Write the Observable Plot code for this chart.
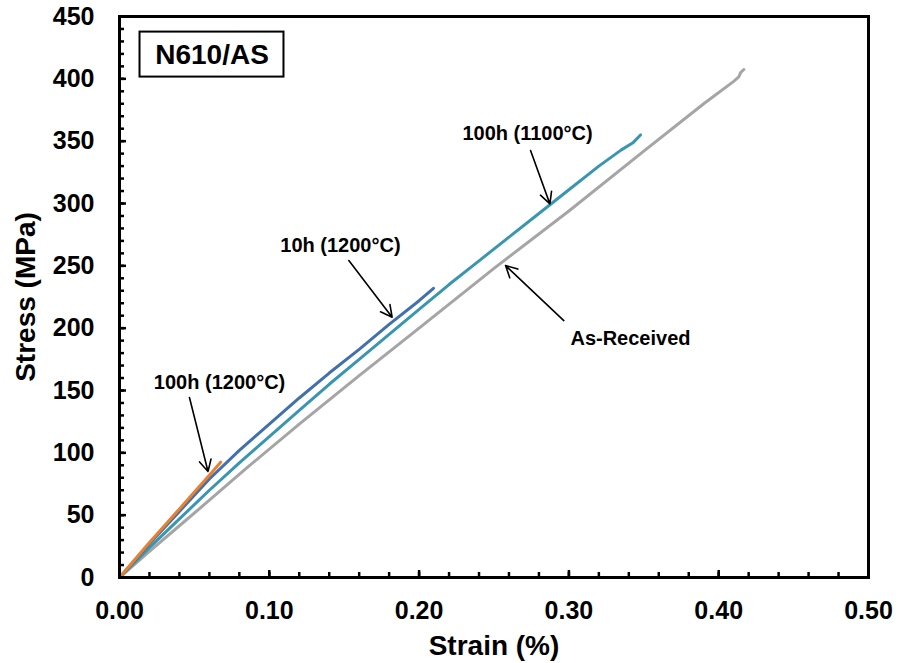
<!DOCTYPE html>
<html>
<head>
<meta charset="utf-8">
<script src="https://cdn.jsdelivr.net/npm/d3@7"></script>
<script src="https://cdn.jsdelivr.net/npm/@observablehq/plot@0.6"></script>
<style>
  html, body { margin: 0; padding: 0; background: #fff; }
  #chart { width: 899px; height: 663px; }
</style>
</head>
<body>
<div id="chart"></div>
<script>
// ---- Data ----
const strainAsReceived = [0, 0.02, 0.04, 0.06, 0.084, 0.12, 0.16, 0.2, 0.25, 0.3, 0.35, 0.39, 0.41, 0.4134, 0.4146, 0.4168];
const stressAsReceived = [0, 21, 41.5, 62, 87, 123, 162, 200, 248, 294, 342, 380, 398, 401.5, 405, 407.5];

const strain1100_100h = [0, 0.02, 0.04, 0.06, 0.08, 0.1, 0.12, 0.14, 0.16, 0.18, 0.2, 0.22, 0.24, 0.26, 0.28, 0.3, 0.32, 0.335, 0.343, 0.3478];
const stress1100_100h = [0, 24, 47, 70, 92, 113, 134, 155, 175, 195, 215, 235, 254, 273, 292, 311, 330, 343, 349, 355];

const strain1200_10h = [0, 0.02, 0.04, 0.06, 0.08, 0.1, 0.12, 0.14, 0.16, 0.18, 0.2, 0.2096];
const stress1200_10h = [0, 27, 53, 79, 102, 123, 144, 164, 183, 203, 222, 232];

const strain1200_100h = [0, 0.01, 0.02, 0.03, 0.04, 0.05, 0.06, 0.0675];
const stress1200_100h = [0, 14, 28, 41.5, 55, 68.5, 82, 92.5];

const seriesNames = ["As-Received", "100h (1100°C)", "10h (1200°C)", "100h (1200°C)"];
const seriesColors = ["#a5a5a5", "#3a96b0", "#4270ad", "#e8802f"];

const xMajorTicks = [0, 0.1, 0.2, 0.3, 0.4, 0.5];
const xMinorTicks = d3.range(0, 0.5001, 0.02);
const yMajorTicks = [0, 50, 100, 150, 200, 250, 300, 350, 400, 450];
const yMinorTicks = d3.range(0, 450.01, 10);

// annotation labels and arrows (data coordinates)
const labelText = ["100h (1100°C)", "10h (1200°C)", "100h (1200°C)", "As-Received"];
const labelX = [0.2724, 0.1475, 0.0668, 0.3411];
const labelY = [356, 266.3, 156.2, 191.5];
const arrowX1 = [0.2744, 0.1531, 0.0467, 0.2966];
const arrowY1 = [342.5, 254.3, 144.4, 206.1];
const arrowX2 = [0.2873, 0.1820, 0.0591, 0.2577];
const arrowY2 = [299.7, 208.8, 85, 250.2];

const boxLabel = "N610/AS";
const boxX = [0.0137, 0.1098];
const boxY = [401.4, 437.5];

// ---- Build tables ----
const allX = [strainAsReceived, strain1100_100h, strain1200_10h, strain1200_100h];
const allY = [stressAsReceived, stress1100_100h, stress1200_10h, stress1200_100h];
const rows = [];
allX.forEach((xs, s) => xs.forEach((x, i) => rows.push({series: seriesNames[s], strain: x, stress: allY[s][i]})));
const labels = labelText.map((t, i) => ({t, x: labelX[i], y: labelY[i]}));
const arrows = labelText.map((t, i) => ({x1: arrowX1[i], y1: arrowY1[i], x2: arrowX2[i], y2: arrowY2[i]}));

const font = "'Liberation Sans', Arial, Helvetica, sans-serif";

const chart = Plot.plot({
  width: 899,
  height: 663,
  marginLeft: 119,
  marginRight: 31,
  marginTop: 16,
  marginBottom: 86,
  style: {fontFamily: font, fontWeight: "bold", color: "black", background: "white"},
  x: {domain: [0, 0.5]},
  y: {domain: [0, 450]},
  color: {domain: seriesNames, range: seriesColors},
  marks: [
    Plot.line(rows, {x: "strain", y: "stress", z: "series", stroke: "series", strokeWidth: 3, strokeLinejoin: "round", strokeLinecap: "round"}),
    Plot.arrow(arrows, {x1: "x1", y1: "y1", x2: "x2", y2: "y2", stroke: "black", strokeWidth: 1.6, headLength: 12, headAngle: 55}),
    Plot.text(labels, {x: "x", y: "y", text: "t", fontSize: 20, fontWeight: "bold", fill: "black"}),
    Plot.rect([0], {x1: () => boxX[0], x2: () => boxX[1], y1: () => boxY[0], y2: () => boxY[1], fill: "white", stroke: "black", strokeWidth: 2}),
    Plot.text([boxLabel], {x: () => (boxX[0] + boxX[1]) / 2, y: () => (boxY[0] + boxY[1]) / 2, text: d => d, fontSize: 28, fontWeight: "bold", fill: "black"}),
    // ticks pointing inward (shifted inside the frame)
    Plot.axisX({ticks: xMinorTicks, tickSize: 5, dy: -5, text: null, strokeWidth: 2.5}),
    Plot.axisX({ticks: xMajorTicks, tickSize: 7, dy: -7, text: null, strokeWidth: 2.5}),
    Plot.axisY({ticks: yMinorTicks, tickSize: 5, dx: 5, text: null, strokeWidth: 2.5}),
    Plot.axisY({ticks: yMajorTicks, tickSize: 7, dx: 7, text: null, strokeWidth: 2.5}),
    // tick labels
    Plot.axisX({ticks: xMajorTicks, tickSize: 0, tickPadding: 24, tickFormat: d => d.toFixed(2), fontSize: 25, fontWeight: "bold", label: null}),
    Plot.axisY({ticks: yMajorTicks, tickSize: 0, tickPadding: 25, tickFormat: d => String(d), fontSize: 25, fontWeight: "bold", label: null}),
    // axis titles
    Plot.text(["Strain (%)"], {frameAnchor: "bottom", lineAnchor: "middle", dy: 69, text: d => d, fontSize: 28, fontWeight: "bold", fill: "black"}),
    Plot.text(["Stress (MPa)"], {frameAnchor: "left", textAnchor: "middle", dx: -93, rotate: -90, text: d => d, fontSize: 28, fontWeight: "bold", fill: "black"}),
    Plot.frame({stroke: "black", strokeWidth: 3})
  ]
});
document.getElementById("chart").appendChild(chart);
</script>
</body>
</html>
